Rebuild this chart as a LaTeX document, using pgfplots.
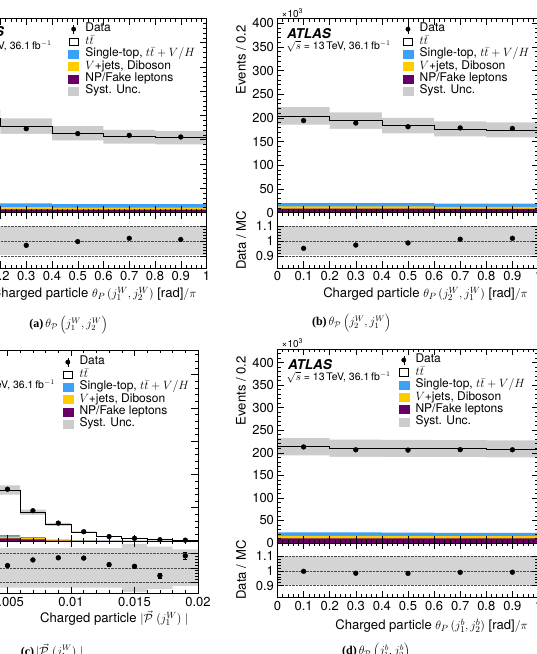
\documentclass[border=0pt]{standalone}
\usepackage{pgfplots}
\pgfplotsset{compat=1.18}
\usepackage{pgfplotstable}
\usepackage{fontspec}
\setmainfont{TeX Gyre Heros}
\newfontfamily\capserif{Liberation Serif}

\definecolor{sgtop}{RGB}{60,160,245}
\definecolor{vjets}{RGB}{255,204,0}
\definecolor{npfake}{RGB}{102,0,102}
\definecolor{systunc}{RGB}{204,204,204}
\definecolor{systratio}{RGB}{212,212,212}

% ---------- theta_P(j1W, j2W) ----------
\pgfplotstableread{
edge mc hi lo st vj np rhi rlo
0.0 194.0 211.5 176.5 19 11 6.5 1.098 0.905
0.2 178.0 194.0 162.0 19 11 6.5 1.098 0.905
0.4 163.3 178.0 148.6 17 10 6.0 1.098 0.905
0.6 156.3 170.4 142.2 17 10 6.0 1.098 0.905
0.8 154.2 168.1 140.3 17 10 6.0 1.098 0.905
1.0 154.2 168.1 140.3 17 10 6.0 1.098 0.905
}\binsA
\pgfplotstableread{
x data ratio
0.1 188.6 0.972
0.3 172.8 0.971
0.5 162.6 0.996
0.7 159.1 1.018
0.9 155.7 1.010
}\dataA

% ---------- theta_P(j2W, j1W) ----------
\pgfplotstableread{
edge mc hi lo st vj np rhi rlo
0.0 204.3 222.7 185.9 20.0 13 8.0 1.098 0.905
0.2 194.3 211.8 176.8 20.0 13 8.0 1.098 0.905
0.4 183.6 200.1 167.1 20.0 13 8.0 1.098 0.905
0.6 176.6 192.5 160.7 18.5 12 7.5 1.098 0.905
0.8 174.5 190.2 158.8 18.5 12 7.5 1.098 0.905
1.0 174.5 190.2 158.8 18.5 12 7.5 1.098 0.905
}\binsB
\pgfplotstableread{
x data ratio
0.1 194.3 0.951
0.3 189.1 0.973
0.5 181.2 0.987
0.7 178.7 1.012
0.9 177.6 1.018
}\dataB

% ---------- |P(j1W)| ----------
\pgfplotstableread{
edge mc hi lo st vj np rhi rlo
0.000 100.0 109.0 91.0 8.0 5.0 3.0 1.14 0.86
0.002 143.0 156.0 130.0 10.0 6.5 4.0 1.14 0.86
0.004 76.6 83.5 69.7 9.0 6.5 4.0 1.14 0.86
0.006 43.1 47.0 39.2 6.0 4.5 2.5 1.14 0.86
0.008 25.1 27.4 22.8 2.0 1.3 0.7 1.14 0.86
0.010 13.1 14.3 11.9 1.0 0.6 0.3 1.14 0.86
0.012 6.5 7.1 5.9 0.5 0.3 0.15 1.14 0.86
0.014 4.0 4.6 3.4 0.3 0.2 0.1 1.17 0.83
0.016 2.0 2.3 1.7 0.1 0.1 0.05 1.15 0.85
0.018 1.2 1.4 1.0 0.1 0.05 0.02 1.13 0.87
0.020 1.2 1.4 1.0 0.1 0.05 0.02 1.13 0.87
}\binsC
\pgfplotstableread{
x data ratio err
0.001 103.0 1.030 0.002
0.003 145.9 1.020 0.002
0.005 77.8 1.016 0.003
0.007 45.5 1.056 0.004
0.009 26.9 1.071 0.005
0.011 14.0 1.069 0.006
0.013 6.65 1.023 0.008
0.015 4.04 1.011 0.010
0.017 1.89 0.945 0.015
0.019 1.30 1.085 0.027
}\dataC

% ---------- theta_P(j1b, j2b) ----------
\pgfplotstableread{
edge mc hi lo st vj np rhi rlo
0.0 213.5 232.7 194.3 23.5 16.0 10 1.098 0.905
0.2 210.0 228.9 191.1 23.5 16.0 10 1.098 0.905
0.4 209.5 228.4 190.6 23.0 15.5 10 1.098 0.905
0.6 209.0 227.8 190.2 22.5 15.5 10 1.098 0.905
0.8 208.5 227.3 189.7 22.5 15.5 10 1.098 0.905
1.0 208.5 227.3 189.7 22.5 15.5 10 1.098 0.905
}\binsD
\pgfplotstableread{
x data ratio
0.1 212.9 0.997
0.3 206.6 0.984
0.5 205.9 0.983
0.7 206.9 0.990
0.9 206.6 0.991
}\dataD

\newcommand\ticksize{\fontsize{13}{15}\selectfont}
\newcommand\labsize{\fontsize{13.1}{15}\selectfont}
\newcommand\legsize{\fontsize{12}{14}\selectfont}
\newcommand\capsize{\capserif\fontsize{12}{14}\selectfont}
\newcommand\atlas[1]{\node[anchor=west,inner sep=0pt,font=\fontsize{13.5}{15}\selectfont\bfseries\itshape] at (#1) {ATLAS};}
\newcommand\lumi[2]{\node[anchor=#2,font=\fontsize{10.5}{12}\selectfont,inner sep=0pt] at (#1) {$\sqrt{s}$ = 13\,TeV, 36.1\,fb$^{-1}$};}

\pgfplotsset{
  panel/.style={
    scale only axis, anchor=north west, axis on top,
    axis line style={line width=0.9pt},
    tick align=inside, xtick pos=both, ytick pos=both,
    major tick length=6.5pt, minor tick length=3.2pt,
    every tick/.style={black, line width=0.5pt},
    tick label style={font=\ticksize},
    scaled x ticks=false, scaled y ticks=false,
    /pgf/number format/assume math mode=true,
  },
  upper/.style={panel, ymin=0, xticklabels={}, minor y tick num=4, ytick distance=50,
    legend style={draw=none, fill=none, anchor=north west, inner sep=0pt, outer sep=0pt,
      font=\legsize, row sep=0pt,
      nodes={inner ysep=0pt, inner xsep=0pt, text height=9pt, text depth=3.4pt, anchor=west}},
    legend cell align=left},
  ratio/.style={panel, ymin=0.82, ymax=1.19, ytick={0.9,1,1.1}, yticklabels={0.9,1,1.1},
    minor y tick num=4, ymajorgrids, grid style={densely dotted, black!70, line width=0.5pt}},
  thetax/.style={xmin=0, xmax=1, xtick={0,0.1,...,1.01}, minor x tick num=4},
  thetaxl/.style={thetax, xticklabels={0,0.1,0.2,0.3,0.4,0.5,0.6,0.7,0.8,0.9,1}},
  % legend swatches: 10pt wide, followed by a 6.5pt gap before the text
  boxleg/.style={legend image code/.code={\fill[#1] (0pt,-4pt) rectangle (10pt,4pt); \path (16.5pt,0pt);}},
  ttleg/.style={legend image code/.code={\draw[black, fill=white, line width=0.5pt] (0.25pt,-3.75pt) rectangle (9.75pt,3.75pt); \path (16.5pt,0pt);}},
  dataleg/.style={legend image code/.code={\draw[black, line width=0.6pt] (5pt,-4.5pt) -- (5pt,4.5pt); \fill[black] (5pt,0pt) circle (2.2pt); \path (0pt,0pt) (16.5pt,0pt);}},
}

% legend entries shared by every panel
\newcommand\legendentries{%
  \addlegendimage{dataleg}\addlegendentry{Data}
  \addlegendimage{ttleg}\addlegendentry{$t\bar{t}$}
  \addlegendimage{boxleg=sgtop}\addlegendentry{Single-top, $t\bar{t}+V/H$}
  \addlegendimage{boxleg=vjets}\addlegendentry{$V$+jets, Diboson}
  \addlegendimage{boxleg=npfake}\addlegendentry{NP/Fake leptons}
  \addlegendimage{boxleg=systunc}\addlegendentry{Syst. Unc.}
}
% systematic band (upper edge in grey, lower edge blanked in white), stacked
% backgrounds, prediction and data of an upper panel
\newcommand\upperplots[2]{%
  \addplot[fill=systunc, draw=none, const plot mark left, forget plot] table[x=edge,y=hi]{#1} \closedcycle;
  \addplot[fill=white, draw=none, const plot mark left, forget plot] table[x=edge,y=lo]{#1} \closedcycle;
  \addplot[fill=sgtop, draw=none, const plot mark left, forget plot] table[x=edge,y=st]{#1} \closedcycle;
  \addplot[fill=vjets, draw=none, const plot mark left, forget plot] table[x=edge,y=vj]{#1} \closedcycle;
  \addplot[fill=npfake, draw=none, const plot mark left, forget plot] table[x=edge,y=np]{#1} \closedcycle;
  \addplot[black, line width=0.6pt, const plot mark left, forget plot] table[x=edge,y=mc]{#1};
  \addplot[only marks, mark=*, mark size=2.4pt, black, forget plot] table[x=x,y=data]{#2};
}
\newcommand\ratioplots[2]{%
  \addplot[fill=systratio, draw=none, const plot mark left, forget plot] table[x=edge,y=rhi]{#1} \closedcycle;
  \addplot[fill=white, draw=none, const plot mark left, forget plot] table[x=edge,y=rlo]{#1} \closedcycle;
  \addplot[only marks, mark=*, mark size=2.4pt, black, forget plot] table[x=x,y=ratio]{#2};
}

\begin{document}
\begin{tikzpicture}[x=1pt,y=1pt]
\begin{scope}
\clip (0,0) rectangle (537,654);

% ===== (a) =====
\begin{axis}[upper, thetax, at={(-51pt,635.5pt)}, width=257.5pt, height=194pt, ymax=400,
  legend style={at={(0.464,0.977)}}]
  \legendentries
  \upperplots{\binsA}{\dataA}
\end{axis}
\begin{axis}[ratio, thetaxl, at={(-51pt,441.5pt)}, width=257.5pt, height=55.5pt]
  \ratioplots{\binsA}{\dataA}
\end{axis}
\atlas{-40,622}
\lumi{51.7,607.3}{east}
\node[anchor=base east, font=\labsize] at (200,356.5)
  {Charged particle $\theta_{P}\,(j_1^{W}, j_2^{W})$ [rad]$/\pi$};
\node[font=\capsize] at (68.5,329)
  {\textbf{(a)}\,$\theta_{\mathcal{P}}\left(j_1^{W}, j_2^{W}\right)$};

% ===== (b) =====
\begin{axis}[upper, thetax, at={(277.5pt,635.5pt)}, width=261pt, height=194pt, ymax=410,
  legend style={at={(0.48,0.977)}}]
  \legendentries
  \upperplots{\binsB}{\dataB}
\end{axis}
\begin{axis}[ratio, thetaxl, at={(277.5pt,441.5pt)}, width=261pt, height=55.5pt]
  \ratioplots{\binsB}{\dataB}
\end{axis}
\node[anchor=west, font=\fontsize{10}{12}\selectfont, inner sep=0pt] at (281.5,641) {×10\textsuperscript{3}};
\atlas{287,620.7}
\lumi{286.5,607.3}{west}
\node[rotate=90, anchor=east, font=\labsize, inner sep=0pt] at (241,629) {Events / 0.2};
\node[rotate=90, font=\labsize, inner sep=0pt] at (241,413.5) {Data / MC};
\node[anchor=base east, font=\labsize] at (531.3,356.5)
  {Charged particle $\theta_{P}\,(j_2^{W}, j_1^{W})$ [rad]$/\pi$};
\node[font=\capsize] at (351.5,331)
  {\textbf{(b)}\,$\theta_{\mathcal{P}}\left(j_2^{W}, j_1^{W}\right)$};

% ===== (c) =====
\begin{axis}[upper, at={(-56pt,304pt)}, width=254pt, height=191pt, ymax=287,
  xmin=0, xmax=0.02, xtick={0,0.005,0.01,0.015,0.02}, minor x tick num=4,
  legend style={at={(0.467,0.969)}}]
  \legendentries
  \upperplots{\binsC}{\dataC}
\end{axis}
\begin{axis}[ratio, at={(-56pt,113pt)}, width=254pt, height=52.3pt,
  xmin=0, xmax=0.02, xtick={0,0.005,0.01,0.015,0.02}, minor x tick num=4,
  xticklabels={0,0.005,0.01,0.015,0.02}]
  \ratioplots{\binsC}{\dataC}
  \addplot[only marks, mark=none, black, line width=0.6pt, forget plot,
    error bars/.cd, y dir=both, y explicit] table[x=x, y=ratio, y error=err]{\dataC};
\end{axis}
\atlas{-50,288.3}
\lumi{55,268.3}{east}
\node[anchor=base east, font=\labsize] at (191.7,31.5)
  {Charged particle $|\vec{\mathcal{P}}\;(j_1^{W})\;|$};
\node[font=\capsize] at (52,3)
  {\textbf{(c)}\,$|\vec{\mathcal{P}}\;(j_1^{W})\;|$};

% ===== (d) =====
\begin{axis}[upper, thetax, at={(277.5pt,305pt)}, width=261pt, height=194pt, ymax=430,
  legend style={at={(0.464,0.975)}}]
  \legendentries
  \upperplots{\binsD}{\dataD}
\end{axis}
\begin{axis}[ratio, thetaxl, at={(277.5pt,111pt)}, width=261pt, height=54.3pt]
  \ratioplots{\binsD}{\dataD}
\end{axis}
\node[anchor=west, font=\fontsize{10}{12}\selectfont, inner sep=0pt] at (281.5,310.7) {×10\textsuperscript{3}};
\atlas{288,289.5}
\lumi{286.5,277}{west}
\node[rotate=90, anchor=east, font=\labsize, inner sep=0pt] at (241,298) {Events / 0.2};
\node[rotate=90, font=\labsize, inner sep=0pt] at (241,84) {Data / MC};
\node[anchor=base east, font=\labsize] at (531.3,24.5)
  {Charged particle $\theta_{P}\,(j_1^{b}, j_2^{b})$ [rad]$/\pi$};
\node[font=\capsize] at (376,2.3)
  {\textbf{(d)}\,$\theta_{\mathcal{P}}\left(j_1^{b}, j_2^{b}\right)$};
\end{scope}
\pgfresetboundingbox
\path[use as bounding box] (0,0) rectangle (537,654);
\end{tikzpicture}
\end{document}
